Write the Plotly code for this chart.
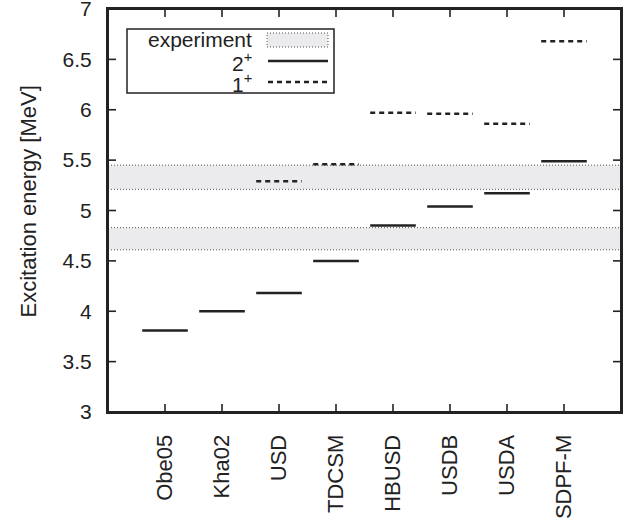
import plotly.graph_objects as go

# ---- data ----
models = ["Obe05", "Kha02", "USD", "TDCSM", "HBUSD", "USDB", "USDA", "SDPF-M"]
e_2plus = [3.81, 4.00, 4.18, 4.50, 4.85, 5.04, 5.17, 5.49]
e_1plus = [None, None, 5.29, 5.46, 5.97, 5.96, 5.86, 6.68]
exp_bands = [(4.61, 4.83), (5.21, 5.45)]
legend_labels = ["experiment", "2<sup>+</sup>", "1<sup>+</sup>"]
y_ticks = [3, 3.5, 4, 4.5, 5, 5.5, 6, 6.5, 7]
y_ticktext = ["3", "3.5", "4", "4.5", "5", "5.5", "6", "6.5", "7"]

HALF = 0.4
FONT = "Liberation Sans, Arial, sans-serif"
INK = "#222222"
X_RANGE = [0, 9]
Y_RANGE = [3, 7]

# ---- geometry of the plot area (pixels) ----
L, R, T, B = 108, 621, 9, 412
W, H = R - L, B - T
TICK_PX = 8
TICK_DX = TICK_PX * (X_RANGE[1] - X_RANGE[0]) / W
TICK_DY = TICK_PX * (Y_RANGE[1] - Y_RANGE[0]) / H


def segments(vals):
    xs, ys = [], []
    for i, v in enumerate(vals, start=1):
        if v is None:
            continue
        xs += [i - HALF, i + HALF, None]
        ys += [v, v, None]
    return xs, ys


fig = go.Figure()

x2, y2 = segments(e_2plus)
fig.add_trace(go.Scatter(x=x2, y=y2, mode="lines",
                         line=dict(color=INK, width=2.5), showlegend=False,
                         hoverinfo="skip"))
x1, y1 = segments(e_1plus)
fig.add_trace(go.Scatter(x=x1, y=y1, mode="lines",
                         line=dict(color=INK, width=2.5, dash="5px,4px"),
                         showlegend=False, hoverinfo="skip"))

# ---- inside tick marks on all four sides, built from the tick lists ----
x0, x9 = X_RANGE
ylo, yhi = Y_RANGE
xtickvals = list(range(1, len(models) + 1))
tx, ty = [], []
for v in y_ticks[1:-1]:
    tx += [x0, x0 + TICK_DX, None, x9 - TICK_DX, x9, None]
    ty += [v, v, None, v, v, None]
for v in xtickvals:
    tx += [v, v, None, v, v, None]
    ty += [ylo, ylo + TICK_DY, None, yhi - TICK_DY, yhi, None]
fig.add_trace(go.Scatter(x=tx, y=ty, mode="lines",
                         line=dict(color=INK, width=1.6, simplify=False),
                         showlegend=False, hoverinfo="skip"))

shapes = []
for lo, hi in exp_bands:
    shapes.append(dict(type="rect", xref="paper", yref="y", x0=0, x1=1,
                       y0=lo, y1=hi, fillcolor="#ebebed", line_width=0,
                       layer="below"))
    for yy in (lo, hi):
        shapes.append(dict(type="line", xref="paper", yref="y", x0=0, x1=1,
                           y0=yy, y1=yy, layer="below",
                           line=dict(color="#555555", width=1, dash="1px,2px")))


def px(x):
    return (x - L) / W


def py(y):
    return (B - y) / H


# plot frame: four separate edge lines (paper coords)
for ax0, ay0, ax1, ay1 in [(0, 1, 1, 1), (1, 0, 1, 1), (0, 0, 1, 0), (0, 0, 0, 1)]:
    shapes.append(dict(type="line", xref="paper", yref="paper",
                       x0=ax0, y0=ay0, x1=ax1, y1=ay1, layer="above",
                       line=dict(color=INK, width=2)))

# ---- manual legend (text right-aligned, sample on the right) ----
shapes.append(dict(type="rect", xref="paper", yref="paper",
                   x0=px(127), x1=px(334), y0=py(93), y1=py(29),
                   fillcolor="white", line=dict(color=INK, width=1.5)))
shapes.append(dict(type="rect", xref="paper", yref="paper",
                   x0=px(267), x1=px(328), y0=py(47), y1=py(33),
                   fillcolor="#ebebed",
                   line=dict(color="#555555", width=1, dash="1px,2px")))
shapes.append(dict(type="line", xref="paper", yref="paper",
                   x0=px(268), x1=px(328), y0=py(61), y1=py(61),
                   line=dict(color=INK, width=2.5)))
shapes.append(dict(type="line", xref="paper", yref="paper",
                   x0=px(268), x1=px(328), y0=py(82), y1=py(82),
                   line=dict(color=INK, width=2.5, dash="5px,4px")))

annotations = []
for lab, yy in zip(legend_labels, (40, 62, 83)):
    annotations.append(dict(text=lab, xref="paper", yref="paper",
                            x=px(254), y=py(yy), xanchor="right",
                            yanchor="middle", showarrow=False,
                            font=dict(family=FONT, size=21, color=INK)))

annotations.append(dict(text="Excitation energy [MeV]", xref="paper",
                        yref="paper", x=0, y=0.5, xshift=-80, yshift=9,
                        textangle=-90, showarrow=False, xanchor="center",
                        yanchor="middle",
                        font=dict(family=FONT, size=22, color=INK)))

fig.update_layout(
    width=634, height=520,
    margin=dict(l=L, r=634 - R, t=T, b=520 - B, autoexpand=False),
    plot_bgcolor="white", paper_bgcolor="white",
    shapes=shapes, annotations=annotations,
    showlegend=False,
    xaxis=dict(range=X_RANGE, tickmode="array", tickvals=xtickvals,
               ticktext=models, tickangle=-90, ticks="outside", ticklen=12,
               tickcolor="rgba(0,0,0,0)", showline=True, mirror=True,
               linecolor=INK, linewidth=2, showgrid=False, zeroline=False,
               automargin=False,
               tickfont=dict(family=FONT, size=22, color=INK)),
    yaxis=dict(range=Y_RANGE, tickmode="array", tickvals=y_ticks,
               ticktext=y_ticktext, ticks="outside", ticklen=10,
               tickcolor="rgba(0,0,0,0)", showline=True, mirror=True,
               linecolor=INK, linewidth=2, showgrid=False, zeroline=False,
               automargin=False, ticklabeloverflow="allow",
               tickfont=dict(family=FONT, size=21, color=INK)),
)

fig.write_html(
    "out.html",
    config={"displayModeBar": False, "staticPlot": True},
    post_script="document.body.style.margin='0';document.body.style.overflow='hidden';",
)
